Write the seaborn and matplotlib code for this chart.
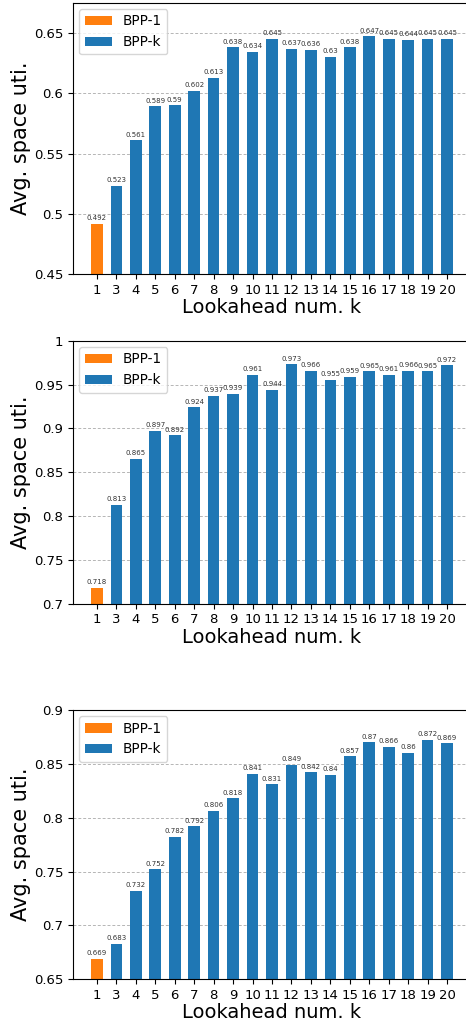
import pandas as pd
import matplotlib
matplotlib.use("Agg")
import matplotlib.pyplot as plt
import seaborn as sns

ks = ["1", "3", "4", "5", "6", "7", "8", "9", "10", "11", "12", "13", "14", "15", "16", "17", "18", "19", "20"]
groups = ["BPP-1"] + ["BPP-k"] * 18

util_a = [0.492, 0.523, 0.561, 0.589, 0.59, 0.602, 0.613, 0.638, 0.634, 0.645,
          0.637, 0.636, 0.63, 0.638, 0.647, 0.645, 0.644, 0.645, 0.645]
util_b = [0.718, 0.813, 0.865, 0.897, 0.892, 0.924, 0.937, 0.939, 0.961, 0.944,
          0.973, 0.966, 0.955, 0.959, 0.965, 0.961, 0.966, 0.965, 0.972]
util_c = [0.669, 0.683, 0.732, 0.752, 0.782, 0.792, 0.806, 0.818, 0.841, 0.831,
          0.849, 0.842, 0.84, 0.857, 0.87, 0.866, 0.86, 0.872, 0.869]

yticks_a = [0.45, 0.5, 0.55, 0.6, 0.65]
yticks_b = [0.7, 0.75, 0.8, 0.85, 0.9, 0.95, 1.0]
yticks_c = [0.65, 0.7, 0.75, 0.8, 0.85, 0.9]

palette = {"BPP-1": "#ff7f0e", "BPP-k": "#1f77b4"}

fig = plt.figure(figsize=(4.66, 10.22), dpi=100)

# axes boxes in figure coords (right edge runs slightly past the figure, like the cropped original)
boxes = [
    [0.1567, 0.7316, 0.854, 0.2658],
    [0.1567, 0.4093, 0.854, 0.2573],
    [0.1567, 0.0418, 0.854, 0.2635],
]
panels = [
    (util_a, yticks_a, (0.45, 0.675)),
    (util_b, yticks_b, (0.7, 1.0)),
    (util_c, yticks_c, (0.65, 0.9)),
]

for box, (vals, yt, ylim) in zip(boxes, panels):
    ax = fig.add_axes(box)
    df = pd.DataFrame({"k": ks, "util": vals, "group": groups})
    sns.barplot(data=df, x="k", y="util", hue="group", order=ks,
                hue_order=["BPP-1", "BPP-k"], palette=palette,
                dodge=False, width=0.6, saturation=1, ax=ax)
    ax.set_axisbelow(True)
    ax.yaxis.grid(True, linestyle=(0, (3, 2)), color="#b5b5b5", linewidth=0.7)
    for c in ax.containers:
        ax.bar_label(c, fmt="{:g}", fontsize=5, color="#333333", padding=2)
    ax.set_xlim(-1.23, 19.23)
    ax.set_ylim(*ylim)
    ax.set_yticks(yt)
    ax.set_yticklabels(["{:g}".format(v) for v in yt], fontsize=9.5)
    ax.tick_params(axis="x", labelsize=9.5)
    ax.set_xlabel("Lookahead num. k", fontsize=14, labelpad=1)
    ax.set_ylabel("Avg. space uti.", fontsize=15, labelpad=2)
    ax.legend(loc="upper left", fontsize=9.8, title=None, borderaxespad=0.45)

fig.savefig("out.png", dpi=100)
